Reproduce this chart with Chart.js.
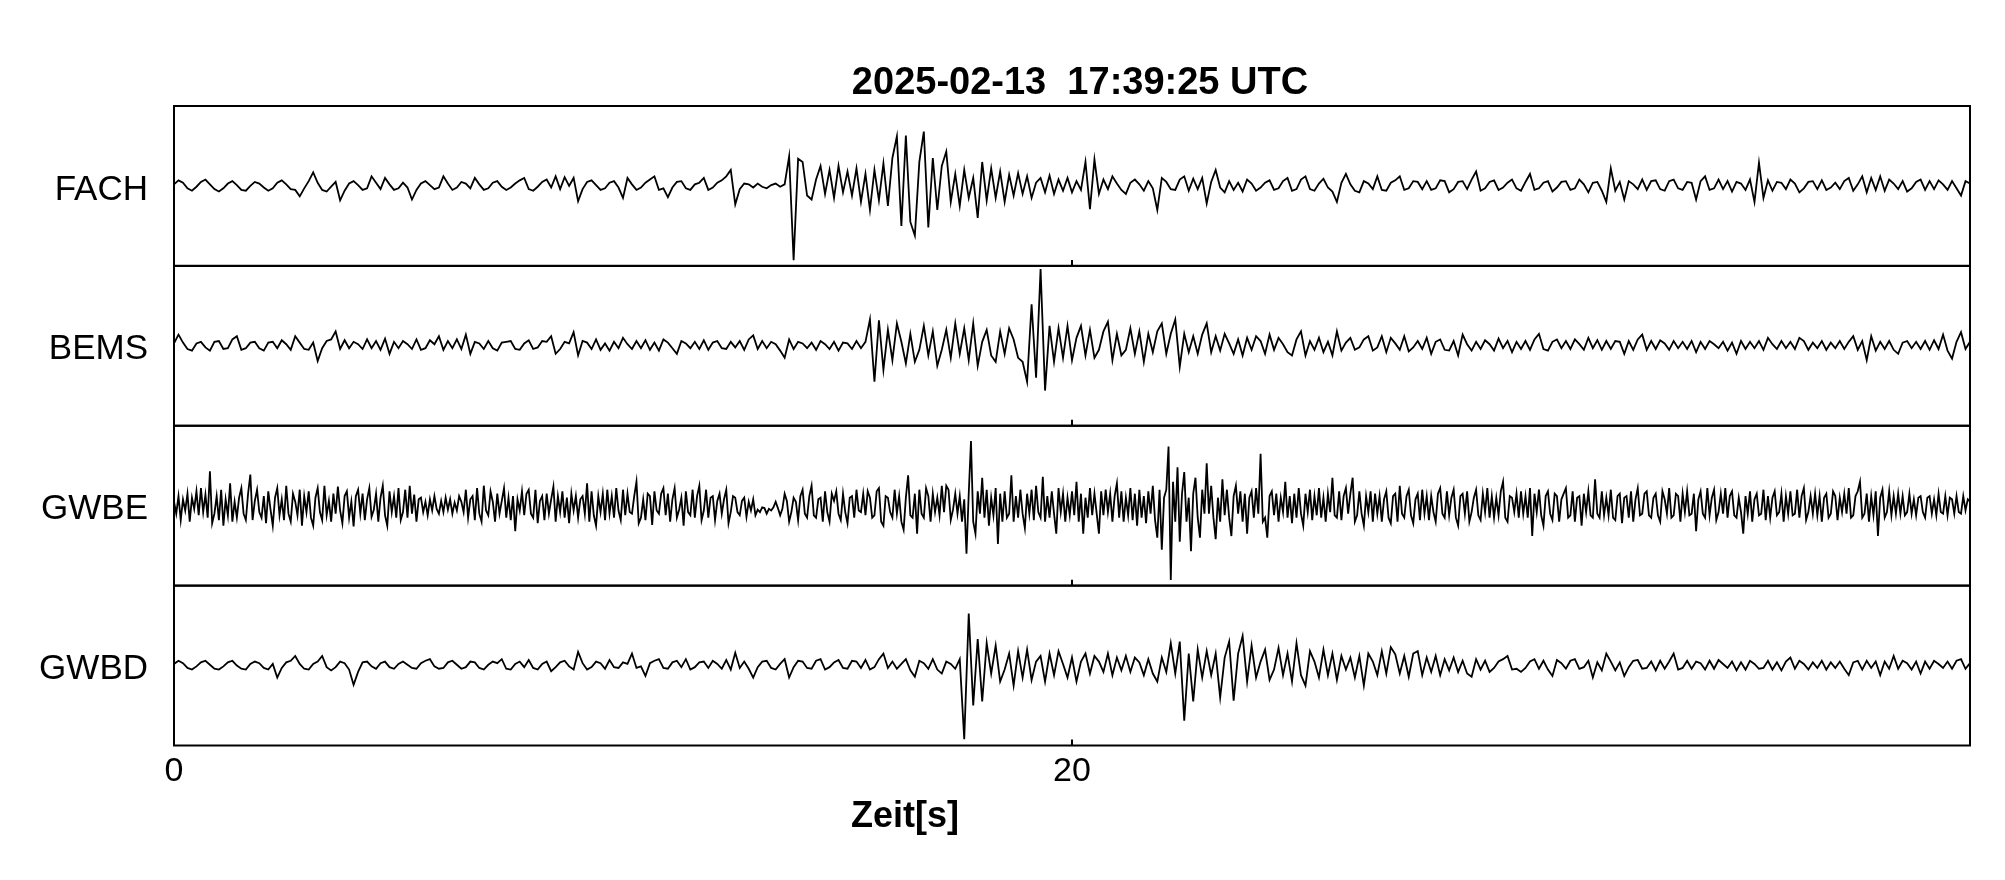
<!DOCTYPE html>
<html><head><meta charset="utf-8">
<script src="https://cdn.jsdelivr.net/npm/chart.js@4.4.1/dist/chart.umd.min.js"></script>
<style>html,body{margin:0;padding:0;background:#fff;}#wrap{width:2005px;height:880px;}</style>
</head><body><div id="wrap"><canvas id="c" width="2005" height="880"></canvas></div>
<script>
const stations = ['FACH', 'BEMS', 'GWBE', 'GWBD'];
const sampleSteps = [0.1, 0.1, 0.05, 0.1];   // seconds between samples of each trace
const xTickValues = [0, 20];
const xMin = 0, xMax = 40;
const titleText = '2025-02-13  17:39:25 UTC';
const xLabel = 'Zeit[s]';

// traces, relative amplitude (±100 = half panel height)
const FACH = [
2,7,4,-3,-6,-1,5,8,2,-4, -7,-3,3,6,1,-5,-6,0,5,3, -2,-6,-3,4,7,2,-4,-5,-13,-3, 6,17,4,-5,-7,-1,5,-18,-6,3,
6,1,-5,-3,12,4,-4,10,2,-5, -3,4,-2,-17,-5,3,6,1,-4,-2, 12,3,-5,-2,5,3,-3,10,2,-5, -3,4,6,-1,-5,-2,3,7,10,-4,
-6,-1,5,8,-2,12,-4,11,0,10, -19,-4,5,7,1,-5,-3,4,6,-2, -15,10,2,-5,-2,4,8,12,-5,-3, -14,-2,5,6,-3,-5,2,4,10,-5,
-2,4,7,12,20,-23,-4,3,2,-2, 3,-1,-3,1,3,-1,2,37,-93,34, 30,-12,-17,8,25,-10,20,-15,25,-8, 18,-12,22,-20,15,-30,20,-18,28,-25,
35,62,-50,63,-45,-62,30,68,-52,35, -30,25,43,-20,15,-25,20,-15,10,-40, 30,-18,22,-15,18,-20,14,-12,16,-10, 12,-15,4,10,-8,13,-10,8,-6,10,
-8,6,-5,30,-29,33,-10,8,-4,12, 3,-5,-10,4,8,2,-6,6,-3,-30, 10,5,-4,-5,8,12,-6,9,-4,10, -22,5,20,-2,-8,6,-5,4,-7,8,
3,-6,-2,4,7,-5,-3,6,10,-6, -4,8,12,-4,-6,3,9,-2,-7,-20, 4,15,2,-6,-8,6,3,-4,12,-5, -6,4,7,12,-5,-3,6,5,-4,6,
-5,-3,7,6,-8,-4,5,6,-4,8, 18,-6,-3,5,7,-5,-2,4,8,-3, -6,5,15,-5,-3,4,6,-7,-2,5, 6,-5,-3,8,2,-8,4,5,-6,-20,
22,-6,5,-17,6,2,-4,8,-5,6, 7,-4,-6,6,8,-3,-5,5,4,-17, 6,12,-5,-3,8,-4,6,-7,5,3, -5,8,-20,29,-15,7,-6,5,4,-4,
8,3,-8,-3,5,6,-4,7,-5,-2, 4,-4,6,10,-6,2,12,-8,10,-5, 12,-6,8,3,-4,6,-7,-3,5,8, -5,6,-4,7,2,-5,6,-3,-12,6,
3];
const BEMS = [
3,14,4,-4,-6,3,5,-2,-6,5, 6,-4,-3,8,12,-5,-3,4,5,-3, -6,4,5,-3,7,2,-5,12,4,-4, -5,4,-19,-3,6,8,18,-4,7,-3,
5,2,-4,8,-3,6,-5,9,-10,5, -3,6,2,-4,8,-5,-3,7,2,12, -5,6,-3,8,-4,14,-10,5,3,-4, 6,-3,-6,4,5,6,-4,-5,3,7,
-4,-2,6,5,12,-10,-4,5,3,17, -12,6,4,-4,8,-5,3,-6,5,-3, 10,2,-4,6,-3,7,-5,4,-6,8, 4,-3,-10,6,3,-3,5,-4,7,-5,
4,6,-3,-4,5,-2,6,-5,8,13, -4,6,-3,5,2,-6,-15,8,-4,5, 3,-3,4,-5,6,2,-4,5,-6,4, 3,-4,6,-3,5,33,-45,32,-30,20,
-18,28,5,-22,15,-20,-5,25,-12,18, -25,-5,20,-15,28,-10,22,-18,28,-25, 5,20,-12,-20,18,-10,22,8,-15,-20, -45,52,-40,96,-56,25,-20,22,-15,25,
-18,10,25,-12,20,-15,-5,18,30,-18, 15,-12,-5,22,-10,18,-20,15,-8,18, 28,-10,15,33,-26,15,-8,12,-10,14, 28,-8,12,-6,15,3,-10,8,-12,10,
-5,12,6,-10,14,-5,10,2,-8,-12, 8,18,-12,6,-5,10,-8,5,-12,18, -6,4,10,-5,-2,8,12,-6,-2,12, -8,10,3,-5,12,-7,-2,6,-4,10,
-10,5,8,-5,-6,6,-12,14,2,-6, 5,-4,7,2,-6,9,-3,6,-8,5, -4,6,-5,8,15,-4,-6,5,8,-3, 6,-4,8,2,-5,10,-3,7,-5,6,
-4,6,5,-10,6,-5,8,14,-5,6, -4,7,3,-5,6,-3,5,-4,6,-8, 5,-4,6,2,-3,5,-6,4,-10,6, -4,5,-3,6,-5,10,2,-4,6,-3,
5,-4,10,6,-5,4,-3,6,-5,4, -3,6,-4,5,12,-5,6,-18,12,-6, 5,-4,6,-5,-10,4,6,-3,5,-4, 6,-5,7,-4,14,-6,-16,5,17,-4,
5];
const GWBE = [
5,-10,12,-18,8,-6,15,-20,10,-4, 18,-12,22,-8,14,-15,43,-22,-10,12, -18,20,-25,8,-12,28,-20,5,-15,10, 22,-10,-18,15,39,-18,6,20,-8,-15,
12,-22,18,-5,-25,10,22,-12,8,-18, 25,-10,-20,15,5,-12,20,-25,12,-8, 18,-15,-25,10,22,-8,-18,25,-12,6, -20,15,-10,24,-6,-22,12,18,-15,5,
-26,12,20,-10,15,-18,8,22,-14,-5, 15,-20,10,25,-12,-25,18,-8,12,-15, 22,-18,-8,20,-15,25,-10,14,-20,8, 10,-8,5,-12,8,-6,12,-4,-10,6,
-8,10,-5,8,-10,4,-6,12,5,-8, 20,-15,8,12,-18,22,-10,-20,25,-6, -12,18,5,-20,15,-10,6,22,-15,10, -18,12,-32,8,-6,18,-12,15,20,-10,
-15,20,-22,6,12,-18,15,-10,8,24, -20,12,-8,18,-15,10,-22,15,-6,12, -15,8,12,-10,28,-20,18,-12,-25,12, -8,15,-18,20,-10,12,-15,22,-6,-18,
20,-12,15,-8,-10,12,30,-22,-15,8, -18,15,12,-24,18,-6,-10,15,22,-12, 15,-20,8,22,-15,-5,10,-25,18,-8, -12,20,-15,12,25,-18,-6,20,-15,10,
12,-18,6,15,-10,8,20,-22,-8,12, 10,-8,-12,6,10,-14,5,-6,8,-12, -5,-8,-2,-3,-10,-4,-6,-2,5,-3, -12,-4,15,6,-20,-8,10,5,-18,12,
20,-10,-15,12,25,-12,-15,8,10,-20, 18,-8,-20,15,6,18,-10,-18,15,-8, -22,10,12,-15,20,-6,-8,15,-12,18, 10,-15,-12,18,22,-20,-25,12,10,-8,
-15,20,-10,12,-20,-30,10,38,-12,-15, 15,-35,20,-10,-15,22,12,-20,15,-8, 10,-12,25,-8,25,20,-18,-5,15,-10, 12,-20,8,-60,15,81,-20,-35,18,-10,
35,-15,20,-25,10,-12,22,-48,15,-20, 18,-15,-10,38,-20,12,-15,20,-10,-28, 15,-10,20,-18,25,-8,-15,36,-20,12, -15,18,-10,-35,22,-8,15,-20,10,-12,
18,-12,30,-20,15,-35,10,-15,22,-12, 15,-10,-35,18,-12,20,-8,15,-20,12, 28,-15,18,-20,10,-12,22,-18,15,-25, 20,-15,12,-22,18,-10,25,-18,-40,20,
-55,10,20,74,-93,30,-20,48,-45,15, 42,-20,10,-57,15,35,-15,-40,20,-10, 53,-10,25,-15,-42,10,-20,33,-12,20, -15,-38,12,25,-10,18,-20,15,-35,10,
18,-15,22,-10,65,-20,-15,-40,12,18, -12,15,-20,10,-8,30,-15,12,-22,15, -15,22,-10,-25,15,-8,20,-18,12,-12, 22,-15,10,-20,15,-8,35,-12,-15,18,
-18,12,22,-10,15,35,-20,-12,18,-10, -25,12,-8,18,-20,15,-10,12,-20,8, 18,-15,-22,12,15,-20,25,-10,-15,12, 20,-12,-22,8,15,-18,20,-10,12,-18,
12,-8,-20,15,22,-10,-15,18,-12,10, 20,-15,-25,12,15,-10,18,-20,-8,10, 20,-12,-18,15,-8,22,-15,12,-15,10, -12,18,30,-15,-20,12,10,-8,15,-15,
18,-10,12,-15,22,-38,15,-8,20,-12, -25,12,18,-10,-18,15,12,-20,8,15, 22,-15,-12,18,-20,10,12,-25,15,-8, 18,-12,-15,33,-10,-15,18,-12,10,-12,
20,-15,-18,12,15,-22,10,12,-15,18, -20,8,22,-12,-10,15,18,-12,-15,10, 15,-12,-20,18,8,-10,22,-15,-12,15, 12,-20,15,-8,18,-12,-10,15,-32,8,
18,-10,-15,22,-12,10,20,-18,-8,15, -10,22,-15,12,18,-12,-15,10,-8,-35, 12,-10,18,-20,8,15,-12,-10,20,-18, 12,-15,10,18,-12,-8,15,-20,12,-10,
18,-12,-10,20,-15,12,22,-18,-8,12, -10,15,-12,12,-20,10,15,-15,-10,18, 12,-18,10,-8,15,-10,22,-15,-12,12, 18,30,-15,-10,15,-20,12,-12,18,-38,
10,20,-15,-8,18,-12,12,-10,15,-10, 12,-12,-8,15,-10,8,-12,10,12,-8, -15,10,12,-10,8,-12,15,-8,-10,12, -12,10,8,-10,12,-8,-10,12,-6,8,
5];
const GWBD = [
2,6,3,-3,-5,-1,4,6,1,-4, -5,-1,4,6,0,-4,-5,2,5,3, -3,-5,2,-15,-3,4,6,12,2,-4, -5,2,5,12,-2,-6,-2,5,3,-5,
-24,-8,4,5,-1,-4,3,5,-2,-4, 2,5,1,-3,-4,3,6,8,-1,-4, -3,4,6,1,-4,-2,5,4,-3,-5, 1,5,3,8,-4,-5,2,5,-2,7,
-3,-5,2,5,-7,-2,4,6,-1,-5, 17,3,-5,-2,5,3,-4,7,-2,-3, 4,2,15,-3,-1,-13,3,6,8,-3, -4,4,6,-2,8,-5,-2,4,5,-3,
6,2,-4,7,-5,16,-3,5,-4,-15, -2,5,6,-3,-5,2,8,-15,-2,6, 5,-3,-4,6,8,-5,-2,4,7,-3, -4,6,5,-3,7,-5,-2,8,15,-3,
5,-4,2,8,-6,-14,6,3,-4,8, -5,-10,5,2,-4,8,-92,65,-50,33, -45,28,-10,25,-20,-5,15,-25,18,-15, 20,-18,5,12,-20,15,-12,18,2,-15,
10,-20,5,15,-10,12,5,-8,15,-12, 10,-6,12,-8,10,4,-12,8,-10,-20, 10,-8,28,-10,30,-69,15,-45,20,-15, 18,-12,15,-40,10,30,-44,15,37,-20,
25,-15,5,20,-18,-5,22,-12,15,-20, 28,-12,-25,18,5,-15,20,-12,15,-18, 12,-5,10,-15,12,-25,15,5,-12,18, -10,23,14,-10,12,-14,15,18,-12,10,
-8,12,-12,8,-6,10,-8,6,-10,-14, 8,-5,6,-8,-3,5,8,12,-5,-4, -8,-3,5,8,-4,6,-5,-13,7,3, -4,6,8,-4,-2,6,-15,4,-6,15,
5,-6,4,-13,-2,6,7,-4,-3,5, -6,6,-4,5,15,-5,-3,6,-4,5, 3,-5,6,-4,7,2,-3,5,-6,4, -5,6,2,-4,-3,6,-5,4,-6,5,
10,-4,6,2,-5,4,-3,6,-5,4, -3,5,-4,-12,4,6,-5,6,-3,5, -12,5,-4,12,-4,6,3,-5,5,-10, 5,-4,6,2,-3,5,-4,6,8,-4,
3];

const series = [FACH, BEMS, GWBE, GWBD];
const yIds = ['y0', 'y1', 'y2', 'y3'];
const FONT = '"Liberation Sans", Arial, Helvetica, sans-serif';

const datasets = series.map((vals, i) => ({
  label: stations[i],
  data: vals.map((v, k) => ({ x: Math.round(k * sampleSteps[i] * 1000) / 1000, y: v })),
  yAxisID: yIds[i],
  borderColor: '#000',
  borderWidth: 1.8,
  pointRadius: 0,
  tension: 0,
  fill: false
}));

const scales = {
  x: {
    type: 'linear', min: xMin, max: xMax, position: 'bottom',
    afterBuildTicks: s => { s.ticks = xTickValues.map(v => ({ value: v })); },
    afterFit: s => { s.height = 134.5; },
    grid: { display: false, drawTicks: false },
    border: { display: false },
    ticks: { font: { family: FONT, size: 34 }, color: '#000', padding: 6, maxRotation: 0, autoSkip: false }
  }
};
stations.forEach((name, i) => {
  scales[yIds[i]] = {
    type: 'linear', min: -100, max: 100, position: 'left',
    stack: 'seis', stackWeight: 1, offset: false, weight: stations.length - i,
    afterBuildTicks: s => { s.ticks = [{ value: 0 }]; },
    afterFit: s => { s.width = 174; },
    grid: { display: false, drawTicks: false },
    border: { display: false },
    ticks: { callback: () => name, font: { family: FONT, size: 35 }, color: '#000', padding: 26, labelOffset: 4 }
  };
});

const frame = {
  id: 'frame',
  afterDatasetsDraw(chart) {
    const ctx = chart.ctx, xs = chart.scales.x;
    ctx.save();
    ctx.strokeStyle = '#000';
    ctx.lineWidth = 2;
    yIds.forEach(id => {
      const s = chart.scales[id];
      ctx.strokeRect(xs.left, s.top, xs.right - xs.left, s.bottom - s.top);
      xTickValues.forEach(v => {
        const px = xs.getPixelForValue(v);
        ctx.beginPath();
        ctx.moveTo(px, s.bottom);
        ctx.lineTo(px, s.bottom - 6);
        ctx.stroke();
      });
    });
    ctx.fillStyle = '#000';
    ctx.textAlign = 'center';
    ctx.textBaseline = 'alphabetic';
    ctx.font = 'bold 38px ' + FONT;
    ctx.fillText(titleText, (xs.left + xs.right) / 2 + 8, 94);
    ctx.font = 'bold 36px ' + FONT;
    ctx.fillText(xLabel, xs.left + (xs.right - xs.left) * 0.407, 827);
    ctx.restore();
  }
};

new Chart(document.getElementById('c'), {
  type: 'line',
  data: { datasets },
  options: {
    responsive: false,
    devicePixelRatio: 1,
    animation: false,
    layout: { padding: { top: 106, right: 35, left: 0, bottom: 0 } },
    plugins: { legend: { display: false }, title: { display: false }, tooltip: { enabled: false } },
    scales
  },
  plugins: [frame]
});
</script>
</body></html>
